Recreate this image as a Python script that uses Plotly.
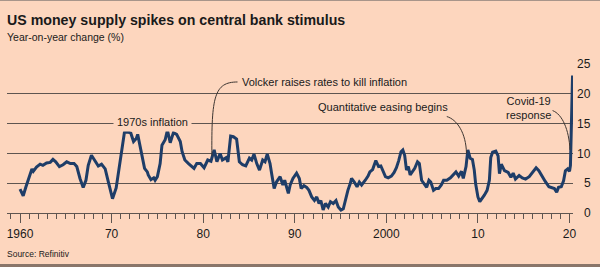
import plotly.graph_objects as go

# ---- data ----
years = [1960.0, 1960.35, 1960.65, 1961.0, 1961.3, 1961.45, 1961.8, 1962.2, 1962.5, 1962.9,
         1963.3, 1963.6, 1963.9, 1964.3, 1964.7, 1965.1, 1965.5, 1965.9, 1966.2, 1966.55,
         1966.9, 1967.2, 1967.45, 1967.8, 1968.1, 1968.55, 1968.9, 1969.3, 1969.65, 1970.1,
         1970.5, 1970.85, 1971.2, 1971.4, 1971.8, 1972.1, 1972.4, 1972.7, 1972.85, 1973.1,
         1973.4, 1973.6, 1973.9, 1974.0, 1974.3, 1974.6, 1974.75, 1975.0, 1975.3, 1975.5,
         1975.85, 1976.1, 1976.4, 1976.75, 1977.1, 1977.5, 1977.7, 1978.0, 1978.4, 1978.75,
         1979.0, 1979.3, 1979.7, 1980.1, 1980.5, 1980.85, 1981.2, 1981.5, 1981.85, 1982.1,
         1982.5, 1982.7, 1983.0, 1983.3, 1983.65, 1983.95, 1984.3, 1984.65, 1985.05, 1985.3,
         1985.55, 1985.85, 1986.15, 1986.5, 1986.75, 1987.0, 1987.3, 1987.5, 1987.75, 1988.0,
         1988.4, 1988.7, 1988.9, 1989.3, 1989.5, 1989.8, 1990.2, 1990.5, 1990.7, 1991.0,
         1991.3, 1991.55, 1991.85, 1992.15, 1992.4, 1992.65, 1992.85, 1993.1, 1993.35, 1993.65,
         1993.9, 1994.2, 1994.5, 1994.75, 1995.05, 1995.3, 1995.5, 1995.8, 1996.05, 1996.2,
         1996.5, 1996.8, 1997.05, 1997.3, 1997.7, 1998.0, 1998.2, 1998.5, 1998.85, 1999.15,
         1999.4, 1999.7, 1999.9, 2000.2, 2000.55, 2000.85, 2001.1, 2001.35, 2001.6, 2001.8,
         2002.0, 2002.2, 2002.4, 2002.6, 2002.85, 2003.1, 2003.4, 2003.6, 2003.85, 2004.1,
         2004.4, 2004.65, 2004.85, 2005.15, 2005.4, 2005.7, 2006.0, 2006.25, 2006.6, 2007.0,
         2007.35, 2007.6, 2007.9, 2008.2, 2008.4, 2008.7, 2008.9, 2009.15, 2009.4, 2009.6,
         2009.75, 2010.0, 2010.2, 2010.45, 2010.7, 2011.0, 2011.25, 2011.4, 2011.6, 2011.95,
         2012.2, 2012.35, 2012.55, 2012.9, 2013.3, 2013.6, 2013.85, 2014.1, 2014.5, 2014.85,
         2015.2, 2015.6, 2016.0, 2016.35, 2016.65, 2017.0, 2017.35, 2017.75, 2018.1, 2018.35,
         2018.6, 2018.8, 2019.1, 2019.35, 2019.55, 2019.8, 2020.0, 2020.1, 2020.17, 2020.25,
         2020.33]
m2_yoy = [4.0, 2.9, 4.4, 6.1, 7.4, 7.0, 7.7, 8.2, 8.0, 8.4,
          8.5, 9.0, 8.6, 7.8, 8.1, 8.6, 8.3, 8.3, 7.8, 5.8,
          4.3, 5.5, 8.0, 9.7, 9.0, 7.9, 8.2, 7.4, 5.2, 2.4,
          4.2, 7.7, 11.7, 13.5, 13.6, 13.4, 12.0, 12.5, 13.2, 11.4,
          9.2, 7.5, 6.9, 6.4, 5.6, 5.9, 5.5, 6.1, 8.3, 11.4,
          12.3, 13.9, 11.8, 13.5, 13.2, 12.0, 10.3, 8.9, 8.3, 7.8,
          7.5, 8.3, 8.3, 7.6, 8.9, 8.7, 10.6, 8.6, 10.0, 8.9,
          9.3, 8.6, 12.9, 12.8, 12.4, 8.6, 8.1, 7.9, 9.2, 8.9,
          9.9, 8.3, 7.2, 8.9, 8.6, 9.9, 8.3, 6.4, 4.1, 5.2,
          6.1, 4.7, 5.5, 3.3, 4.7, 5.8, 6.7, 5.8, 4.1, 4.6,
          4.3, 3.8, 2.7, 2.1, 2.7, 1.6, 2.1, 0.5, 1.6, 1.0,
          1.9, 1.6, 2.1, 1.0, 0.5, 0.7, 2.1, 3.8, 4.9, 5.8,
          5.2, 4.4, 5.2, 4.7, 5.5, 6.2, 6.9, 7.3, 8.8, 7.8,
          7.9, 6.8, 6.1, 5.9, 6.2, 6.8, 7.6, 8.8, 10.3, 10.6,
          9.7, 7.2, 7.8, 6.4, 6.9, 7.5, 8.6, 8.3, 5.5, 4.9,
          4.3, 5.5, 5.2, 3.8, 4.1, 4.1, 4.7, 5.5, 5.5, 5.9,
          6.4, 6.9, 6.2, 7.0, 5.8, 7.8, 10.6, 9.2, 9.0, 7.2,
          4.9, 2.7, 1.9, 2.4, 3.0, 3.8, 5.5, 9.3, 10.2, 10.4,
          9.6, 6.6, 8.2, 7.1, 6.8, 6.0, 6.7, 5.7, 6.3, 5.9,
          5.7, 6.1, 6.8, 7.6, 7.1, 6.1, 5.3, 4.4, 4.2, 4.1,
          3.5, 4.3, 4.4, 5.4, 7.1, 7.4, 7.0, 8.0, 12.5, 18.5,
          23.1]

x_tickvals = [1960, 1970, 1980, 1990, 2000, 2010, 2020]
x_ticktext = ["1960", "70", "80", "90", "2000", "10", "20"]
y_tickvals = [0, 5, 10, 15, 20, 25]
y_ticktext_two_digit = ["", "", "10", "15", "20", "25"]
y_tickvals_one_digit = [0, 5]
y_ticktext_one_digit = ["0", "5"]

title = "US money supply spikes on central bank stimulus"
subtitle = "Year-on-year change (%)"
source = "Source: Refinitiv"

# ---- styling ----
BG = "#FDD6BE"
LINE = "#1E3D68"
GRID = "#5E5550"
INK = "#1a1a1a"
FONT = "Liberation Sans, Arial, sans-serif"

W, H = 600, 267
ML, MR, MT, MB = 7, 27, 64, 54
PW, PH = W - ML - MR, H - MT - MB
Y_RANGE = [0, 25.02]


def px(X):
    return (X - ML) / PW


def py(Y):
    return (H - MB - Y) / PH


fig = go.Figure()
fig.add_trace(go.Scatter(x=years, y=m2_yoy, mode="lines",
                         line=dict(color=LINE, width=3), hoverinfo="skip",
                         showlegend=False))
# empty trace that only carries the second (label-only) y axis
fig.add_trace(go.Scatter(x=[], y=[], yaxis="y2", mode="lines", showlegend=False,
                         hoverinfo="skip"))

fig.update_layout(
    width=W, height=H,
    margin=dict(l=ML, r=MR, t=MT, b=MB, pad=0, autoexpand=False),
    paper_bgcolor=BG, plot_bgcolor=BG,
    font=dict(family=FONT, size=12, color=INK),
    showlegend=False,
)

fig.update_xaxes(
    range=[1958.58, 2020.38], automargin=False,
    tickmode="array", tickvals=x_tickvals, ticktext=x_ticktext,
    ticks="outside", ticklen=9, tickwidth=1, tickcolor=GRID,
    ticklabelstandoff=1,
    minor=dict(dtick=1, tick0=1960, ticks="outside", ticklen=5, tickwidth=1,
               tickcolor=GRID, showgrid=False),
    showline=True, linecolor=GRID, linewidth=1,
    showgrid=False, zeroline=False,
    tickfont=dict(size=12, color=INK, family=FONT),
    fixedrange=True,
)

fig.update_layout(
    yaxis=dict(
        range=Y_RANGE, side="right", automargin=False,
        tickmode="array", tickvals=y_tickvals, ticktext=y_ticktext_two_digit,
        ticks="", ticklabelstandoff=3,
        showgrid=True, gridcolor=GRID, gridwidth=1,
        zeroline=False, showline=False,
        tickfont=dict(size=12, color=INK, family=FONT),
        fixedrange=True,
    ),
    yaxis2=dict(
        range=Y_RANGE, side="right", overlaying="y", anchor="x", automargin=False,
        tickmode="array", tickvals=y_tickvals_one_digit, ticktext=y_ticktext_one_digit,
        ticks="", ticklabelstandoff=10,
        showgrid=False, zeroline=False, showline=False,
        tickfont=dict(size=12, color=INK, family=FONT),
        fixedrange=True,
    ),
)

ann_font = dict(family=FONT, size=11, color=INK)
annotations = [
    dict(text="<b>" + title + "</b>", xref="paper", yref="paper",
         x=px(6), y=py(20), xanchor="left", yanchor="middle", showarrow=False,
         font=dict(family=FONT, size=14.2, color=INK), borderpad=0),
    dict(text=subtitle, xref="paper", yref="paper",
         x=px(6), y=py(37), xanchor="left", yanchor="middle", showarrow=False,
         font=dict(family=FONT, size=10.5, color=INK), borderpad=0),
    dict(text=source, xref="paper", yref="paper",
         x=px(6), y=py(254), xanchor="left", yanchor="middle", showarrow=False,
         font=dict(family=FONT, size=8.5, color=INK), borderpad=0),
    dict(text="1970s inflation", x=1974.46, y=15.25, xref="x", yref="y",
         xanchor="center", yanchor="middle", showarrow=False, font=ann_font,
         bgcolor=BG, borderpad=3),
    dict(text="Volcker raises rates to kill inflation", x=1984.15, y=22.0, xref="x", yref="y",
         xanchor="left", yanchor="middle", showarrow=False, font=ann_font, borderpad=0),
    dict(text="Quantitative easing begins", x=1992.45, y=17.75, xref="x", yref="y",
         xanchor="left", yanchor="middle", showarrow=False, font=ann_font, borderpad=0),
    dict(text="Covid-19<br>response", x=2015.47, y=17.6, xref="x", yref="y",
         xanchor="center", yanchor="middle", showarrow=False, font=ann_font, borderpad=0),
]
fig.update_layout(annotations=annotations)

leader = dict(color="#3d3632", width=1)
shapes = [
    dict(type="path", xref="x", yref="y", line=leader,
         path="M 1983.75,22.0 C 1981.2,22.0 1980.9,19.5 1980.95,9.6"),
    dict(type="path", xref="x", yref="y", line=leader,
         path="M 2006.6,16.2 C 2007.7,15.7 2008.7,13.5 2008.75,10.0"),
    dict(type="path", xref="x", yref="y", line=leader,
         path="M 2018.15,17.2 C 2019.2,16.6 2019.95,14.0 2020.05,10.6"),
    # top and bottom rules of the graphic
    dict(type="line", xref="paper", yref="paper", x0=px(0), x1=px(W), y0=py(0.5), y1=py(0.5),
         line=dict(color="#a8958a", width=1)),
    dict(type="line", xref="paper", yref="paper", x0=px(0), x1=px(W), y0=py(265.5), y1=py(265.5),
         line=dict(color="#8a766a", width=3)),
]
fig.update_layout(shapes=shapes)

# remove the browser's default 8px page margin so the 600x267 figure fills the window
fig.write_html("out.html",
               config={"displayModeBar": False, "staticPlot": True},
               post_script="document.body.style.margin='0';document.body.style.overflow='hidden';")
